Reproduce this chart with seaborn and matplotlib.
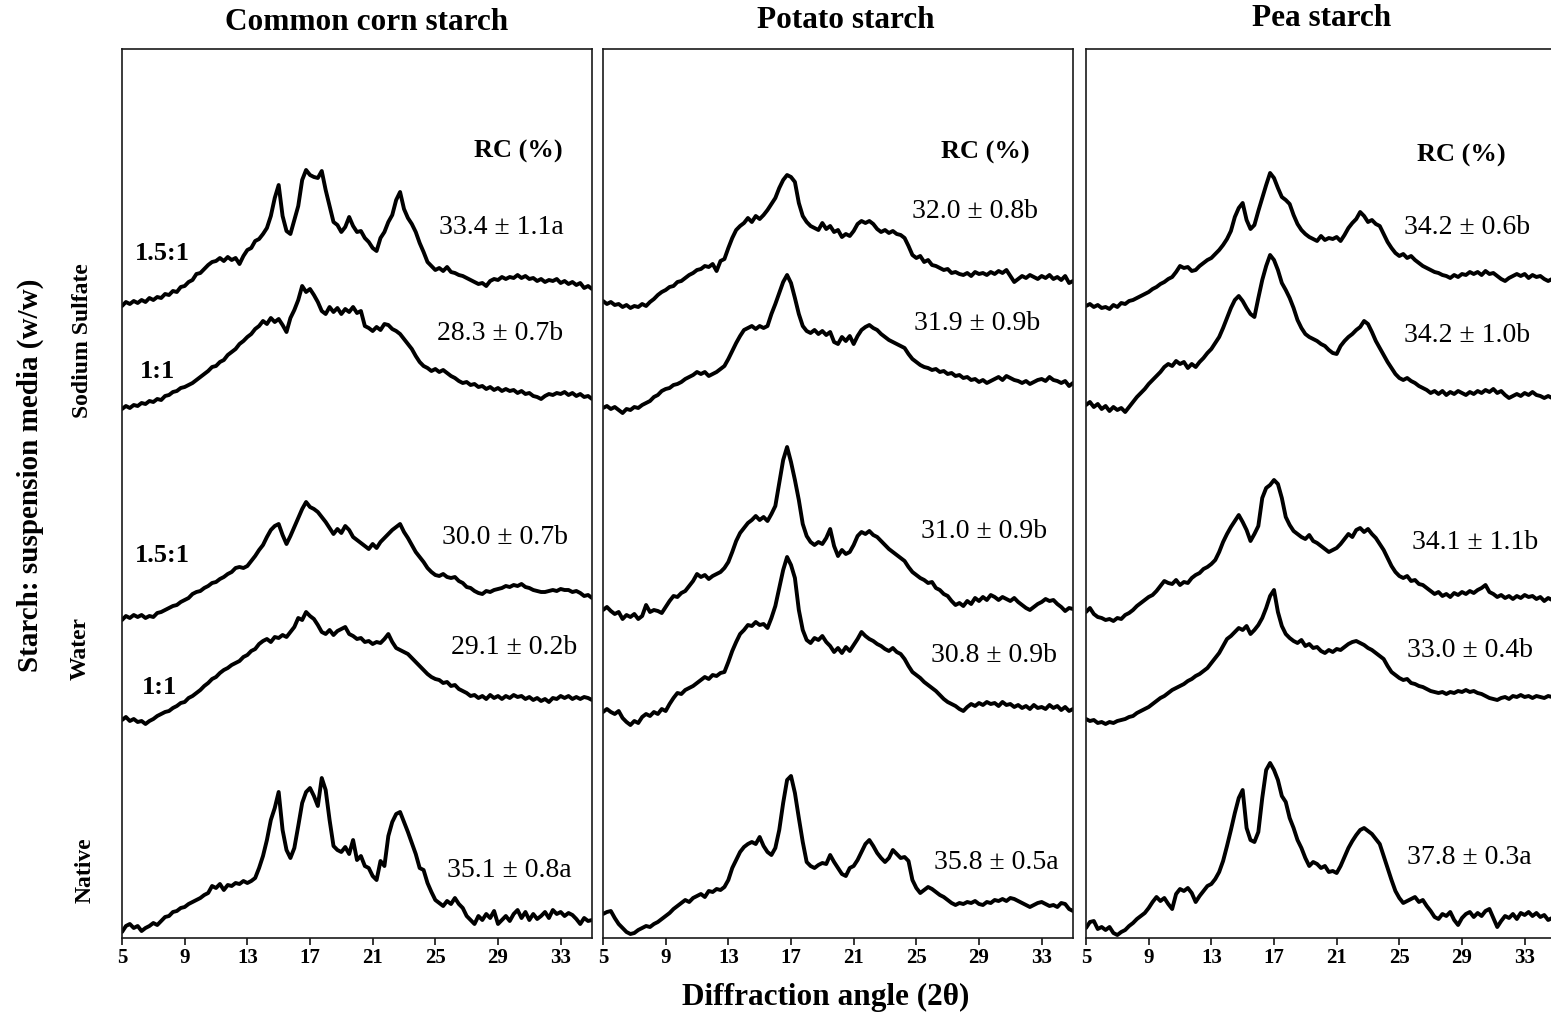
import numpy as np
import pandas as pd
import matplotlib
matplotlib.use("Agg")
import matplotlib.pyplot as plt
import seaborn as sns

# ---------------- data ----------------
angles = np.linspace(5.0, 35.0, 121)          # 2-theta grid, 0.25 deg steps

panels = ["Common corn starch", "Potato starch", "Pea starch"]
traces = ["SS 1.5:1", "SS 1:1", "Water 1.5:1", "Water 1:1", "Native"]
trace_offsets = [610, 500, 300, 200, 0]        # vertical stacking of the patterns

corn_ss15 = [22, 26, 24, 27, 25, 28, 26, 30, 28, 31, 30, 34, 33, 37, 36, 41,
             42, 46, 48, 54, 55, 59, 63, 66, 67, 70, 67, 71, 68, 70, 64, 72,
             78, 80, 87, 89, 94, 100, 112, 130, 143, 112, 97, 94, 108, 122, 148, 158,
             153, 151, 150, 157, 138, 122, 106, 103, 96, 101, 111, 102, 96, 97, 90, 86,
             80, 77, 90, 96, 106, 113, 128, 136, 119, 110, 104, 96, 85, 76, 66, 62,
             58, 60, 57, 61, 56, 55, 53, 52, 50, 48, 46, 44, 45, 42, 47, 49,
             48, 51, 49, 51, 50, 53, 50, 52, 49, 50, 47, 49, 46, 48, 47, 49,
             45, 47, 44, 46, 43, 45, 40, 42, 39]
corn_ss11 = [29, 32, 30, 33, 32, 35, 34, 37, 36, 39, 38, 42, 43, 46, 47, 50,
             51, 53, 55, 58, 61, 64, 67, 71, 72, 76, 78, 83, 86, 89, 94, 97,
             101, 104, 109, 112, 117, 114, 120, 116, 119, 113, 106, 120, 128, 138, 152, 146,
             149, 143, 136, 127, 124, 131, 126, 130, 124, 129, 126, 131, 125, 127, 112, 110,
             107, 111, 108, 114, 113, 109, 107, 104, 99, 94, 89, 82, 76, 72, 70, 67,
             69, 66, 68, 65, 62, 60, 57, 55, 56, 53, 54, 51, 52, 49, 51, 48,
             50, 47, 49, 47, 48, 45, 47, 44, 45, 42, 41, 39, 42, 44, 43, 45,
             44, 46, 43, 45, 42, 44, 41, 42, 39]
corn_w15 = [18, 22, 20, 23, 21, 23, 20, 22, 21, 25, 26, 28, 30, 32, 33, 36,
            38, 40, 44, 46, 47, 50, 52, 55, 56, 59, 61, 64, 66, 70, 71, 70,
            72, 77, 82, 88, 93, 101, 108, 112, 114, 103, 94, 102, 111, 120, 129, 136,
            131, 129, 126, 121, 116, 110, 104, 109, 105, 112, 108, 101, 98, 95, 92, 89,
            94, 90, 96, 100, 104, 108, 111, 114, 106, 100, 93, 86, 81, 76, 70, 66,
            63, 62, 64, 61, 60, 61, 57, 55, 51, 50, 47, 45, 44, 47, 46, 48,
            49, 50, 52, 51, 53, 52, 54, 51, 50, 48, 47, 46, 46, 47, 48, 47,
            49, 48, 48, 46, 47, 45, 42, 43, 40]
corn_w11 = [18, 21, 17, 19, 16, 17, 14, 17, 19, 22, 24, 26, 27, 30, 32, 35,
            36, 40, 42, 45, 48, 52, 55, 59, 61, 65, 68, 70, 73, 75, 77, 81,
            83, 87, 89, 94, 97, 99, 96, 101, 100, 103, 101, 106, 111, 120, 118, 126,
            122, 119, 113, 106, 104, 108, 103, 107, 109, 111, 104, 102, 99, 100, 96, 97,
            94, 96, 95, 99, 104, 96, 90, 88, 86, 84, 80, 76, 72, 68, 64, 61,
            59, 58, 55, 56, 52, 53, 49, 47, 45, 42, 43, 40, 42, 39, 43, 40,
            42, 39, 42, 40, 43, 41, 42, 39, 41, 38, 40, 37, 39, 36, 40, 39,
            42, 40, 42, 39, 41, 39, 41, 40, 38]
corn_native = [6, 12, 14, 10, 12, 7, 10, 12, 15, 13, 17, 21, 22, 26, 27, 30,
               31, 34, 36, 38, 40, 43, 45, 52, 50, 54, 48, 53, 52, 55, 54, 57,
               55, 57, 60, 70, 82, 98, 118, 130, 146, 108, 88, 80, 90, 112, 135, 146,
               150, 142, 132, 160, 148, 118, 92, 88, 86, 91, 84, 98, 78, 82, 72, 70,
               62, 58, 77, 72, 102, 116, 124, 126, 116, 106, 95, 84, 70, 68, 55, 46,
               38, 35, 32, 37, 34, 40, 34, 30, 22, 18, 14, 22, 18, 24, 20, 27,
               14, 18, 22, 17, 24, 28, 20, 26, 18, 24, 19, 22, 26, 20, 28, 24,
               26, 22, 25, 23, 19, 14, 20, 17, 18]

potato_ss15 = [27, 24, 26, 23, 24, 21, 23, 20, 22, 21, 24, 22, 26, 29, 33, 36,
               38, 41, 42, 46, 47, 50, 53, 55, 58, 59, 62, 61, 64, 57, 67, 69,
               80, 90, 98, 102, 105, 110, 106, 112, 109, 113, 118, 124, 130, 140, 148, 153,
               151, 146, 125, 112, 106, 102, 100, 98, 105, 99, 102, 96, 98, 91, 94, 92,
               97, 104, 107, 105, 107, 104, 99, 96, 98, 95, 97, 94, 93, 90, 82, 73,
               70, 72, 66, 68, 63, 62, 60, 58, 59, 55, 56, 54, 53, 55, 52, 56,
               54, 55, 53, 56, 54, 57, 55, 58, 52, 46, 49, 52, 50, 53, 51, 49,
               52, 50, 53, 49, 51, 48, 52, 45, 47]
potato_ss11 = [30, 32, 29, 31, 28, 25, 29, 28, 31, 30, 33, 35, 37, 41, 43, 47,
               49, 50, 53, 54, 56, 59, 61, 63, 66, 64, 66, 62, 64, 66, 69, 72,
               79, 87, 95, 102, 108, 110, 112, 109, 112, 110, 112, 124, 134, 145, 156, 163,
               155, 140, 124, 112, 107, 105, 108, 104, 107, 103, 106, 96, 94, 101, 97, 102,
               94, 102, 108, 111, 113, 110, 108, 104, 101, 98, 96, 94, 92, 90, 84, 79,
               76, 73, 71, 70, 68, 69, 66, 67, 64, 65, 62, 63, 60, 61, 58, 59,
               56, 58, 55, 57, 59, 61, 58, 62, 60, 58, 57, 55, 57, 54, 56, 58,
               59, 57, 61, 58, 57, 55, 57, 52, 55]
potato_w15 = [28, 31, 27, 24, 26, 19, 23, 21, 24, 19, 22, 33, 26, 28, 27, 25,
              31, 37, 42, 41, 45, 47, 52, 57, 64, 61, 63, 59, 62, 64, 66, 70,
              76, 86, 97, 105, 110, 115, 118, 122, 118, 121, 117, 124, 132, 155, 178, 191,
              176, 158, 138, 114, 102, 96, 93, 96, 94, 100, 109, 92, 82, 88, 84, 86,
              93, 102, 106, 104, 107, 103, 101, 97, 93, 89, 86, 83, 80, 77, 71, 66,
              63, 60, 58, 55, 56, 50, 48, 44, 42, 37, 33, 35, 32, 37, 34, 40,
              37, 41, 38, 43, 41, 38, 41, 39, 37, 40, 36, 33, 30, 28, 31, 34,
              36, 39, 37, 38, 34, 31, 27, 30, 29]
potato_w11 = [26, 29, 26, 24, 27, 20, 16, 13, 17, 15, 21, 24, 22, 26, 24, 29,
              27, 34, 40, 45, 44, 48, 50, 52, 55, 58, 61, 59, 63, 62, 65, 66,
              76, 87, 96, 104, 108, 113, 112, 116, 113, 114, 110, 120, 132, 150, 168, 181,
              173, 160, 128, 108, 98, 95, 100, 98, 102, 96, 92, 86, 90, 85, 91, 87,
              93, 99, 106, 102, 99, 97, 94, 92, 89, 87, 90, 86, 84, 79, 72, 66,
              63, 60, 56, 53, 50, 47, 43, 39, 36, 34, 32, 29, 27, 31, 34, 32,
              35, 33, 36, 34, 35, 32, 36, 33, 34, 31, 33, 30, 32, 29, 33, 30,
              31, 29, 33, 30, 32, 28, 31, 27, 29]
potato_native = [24, 26, 27, 20, 14, 10, 6, 4, 5, 8, 10, 12, 11, 14, 16, 19,
                 22, 25, 29, 32, 35, 38, 36, 40, 42, 44, 41, 47, 46, 49, 48, 51,
                 58, 70, 78, 86, 91, 94, 96, 94, 101, 92, 86, 83, 90, 108, 135, 158,
                 162, 145, 120, 96, 76, 72, 70, 73, 75, 74, 83, 76, 70, 64, 62, 70,
                 72, 78, 86, 94, 98, 92, 85, 80, 76, 80, 88, 84, 80, 81, 77, 58,
                 50, 45, 48, 51, 49, 46, 43, 41, 38, 35, 33, 35, 34, 36, 35, 37,
                 34, 33, 36, 35, 38, 37, 39, 37, 40, 39, 37, 35, 33, 31, 33, 35,
                 36, 34, 32, 33, 31, 35, 34, 29, 27]

pea_ss15 = [22, 24, 21, 23, 20, 21, 19, 23, 21, 25, 24, 27, 28, 30, 32, 34,
            36, 39, 41, 44, 46, 49, 51, 56, 62, 60, 61, 57, 58, 62, 65, 68,
            70, 74, 78, 83, 89, 97, 111, 120, 125, 108, 99, 103, 117, 130, 143, 155,
            150, 140, 131, 128, 124, 113, 104, 98, 94, 91, 89, 87, 92, 88, 90, 89,
            91, 87, 93, 100, 105, 109, 116, 112, 106, 108, 104, 102, 94, 86, 80, 75,
            72, 74, 70, 72, 68, 65, 62, 60, 58, 56, 55, 53, 52, 50, 53, 51,
            54, 53, 56, 54, 56, 53, 57, 54, 55, 52, 49, 47, 50, 52, 54, 52,
            54, 50, 53, 51, 52, 49, 47, 49, 48]
pea_ss11 = [33, 36, 31, 34, 29, 32, 27, 31, 28, 30, 26, 31, 36, 41, 45, 49,
            54, 58, 62, 66, 71, 74, 72, 77, 74, 76, 70, 74, 71, 76, 80, 85,
            89, 95, 101, 110, 120, 130, 138, 142, 137, 130, 124, 121, 140, 158, 172, 183,
            178, 168, 155, 148, 140, 130, 118, 110, 104, 101, 99, 97, 94, 92, 88, 85,
            84, 92, 97, 101, 104, 108, 111, 117, 114, 106, 97, 90, 83, 76, 70, 64,
            60, 58, 60, 57, 55, 52, 50, 48, 45, 47, 44, 47, 43, 46, 44, 47,
            45, 43, 46, 44, 47, 45, 48, 46, 49, 45, 47, 43, 40, 42, 44, 42,
            45, 43, 46, 43, 42, 40, 42, 40, 41]
pea_w15 = [26, 30, 24, 21, 20, 18, 19, 17, 20, 19, 23, 25, 28, 32, 35, 38,
           41, 43, 47, 52, 57, 55, 54, 58, 53, 56, 55, 60, 63, 65, 69, 71,
           74, 78, 86, 96, 104, 111, 117, 123, 116, 108, 97, 104, 112, 140, 150, 153,
           158, 154, 140, 121, 113, 107, 104, 101, 99, 103, 97, 95, 92, 89, 86, 88,
           90, 94, 99, 104, 101, 108, 110, 106, 109, 104, 100, 94, 88, 80, 72, 66,
           62, 60, 62, 57, 58, 54, 53, 50, 47, 44, 46, 42, 44, 41, 45, 43,
           46, 44, 47, 45, 48, 50, 53, 46, 44, 41, 43, 40, 42, 39, 42, 40,
           43, 41, 42, 39, 41, 37, 40, 38, 39]
pea_w11 = [19, 17, 18, 15, 16, 14, 16, 15, 17, 18, 19, 21, 22, 25, 27, 29,
           31, 34, 37, 40, 42, 45, 48, 50, 52, 54, 57, 59, 62, 64, 67, 70,
           75, 80, 85, 92, 99, 102, 106, 110, 108, 112, 104, 108, 113, 120, 130, 142,
           148, 126, 112, 104, 100, 97, 95, 98, 92, 94, 90, 91, 87, 85, 88, 86,
           89, 88, 91, 94, 96, 97, 95, 93, 90, 88, 85, 82, 79, 72, 66, 63,
           60, 58, 59, 55, 54, 52, 51, 49, 47, 46, 45, 46, 44, 46, 45, 47,
           46, 48, 46, 47, 45, 44, 42, 40, 39, 38, 40, 41, 39, 42, 41, 43,
           41, 42, 40, 42, 41, 40, 42, 41, 40]
pea_native = [10, 16, 17, 9, 11, 8, 11, 5, 3, 6, 8, 12, 15, 19, 22, 25,
              30, 36, 41, 37, 40, 34, 29, 44, 49, 47, 50, 45, 36, 42, 47, 52,
              54, 59, 66, 77, 92, 108, 125, 140, 148, 110, 98, 96, 106, 140, 168, 175,
              168, 158, 142, 136, 120, 110, 98, 90, 80, 72, 76, 74, 70, 72, 66, 67,
              65, 72, 81, 90, 97, 103, 108, 110, 107, 104, 99, 94, 82, 70, 58, 47,
              40, 35, 37, 39, 41, 36, 38, 32, 27, 21, 19, 24, 22, 26, 18, 13,
              20, 24, 26, 21, 25, 22, 27, 29, 20, 11, 17, 22, 20, 24, 19, 25,
              23, 26, 22, 25, 21, 23, 18, 20, 19]

panel_series = [
    [corn_ss15, corn_ss11, corn_w15, corn_w11, corn_native],
    [potato_ss15, potato_ss11, potato_w15, potato_w11, potato_native],
    [pea_ss15, pea_ss11, pea_w15, pea_w11, pea_native],
]

rc_labels = [
    ["33.4 ± 1.1a", "28.3 ± 0.7b", "30.0 ± 0.7b", "29.1 ± 0.2b", "35.1 ± 0.8a"],
    ["32.0 ± 0.8b", "31.9 ± 0.9b", "31.0 ± 0.9b", "30.8 ± 0.9b", "35.8 ± 0.5a"],
    ["34.2 ± 0.6b", "34.2 ± 1.0b", "34.1 ± 1.1b", "33.0 ± 0.4b", "37.8 ± 0.3a"],
]
ratio_labels = ["1.5:1", "1:1", "1.5:1", "1:1"]
media_labels = ["Sodium Sulfate", "Water", "Native"]
tick_values = [5, 9, 13, 17, 21, 25, 29, 33]

# ---------------- layout (pixels of the 1551 x 1013 canvas) ----------------
W, H = 1551, 1013
panel_left = [122, 603, 1086]
panel_w = 470
ax_top, ax_bot = 49, 938

title_pos = [(367, 23), (846, 21), (1322, 19)]
rchead_pos = [(518, 151), (985, 152), (1461, 155)]
rc_pos = [
    [(501, 228), (500, 333), (505, 538), (514, 647), (509, 870)],
    [(975, 212), (977, 323), (984, 532), (994, 655), (996, 862)],
    [(1467, 227), (1467, 335), (1475, 542), (1470, 650), (1469, 857)],
]
ratio_pos = [(162, 253), (158, 372), (162, 555), (159, 687)]
media_pos = [(83, 341), (80, 649), (85, 870)]

sns.set_style("ticks")
plt.rcParams["font.family"] = ["Liberation Serif", "DejaVu Serif"]
plt.rcParams["text.color"] = "black"
plt.rcParams["xtick.color"] = "black"
plt.rcParams["xtick.labelcolor"] = "black"
plt.rcParams["axes.edgecolor"] = "black"

fig = plt.figure(figsize=(W / 100, H / 100), dpi=100)


def ftext(x, y, s, **kw):
    fig.text(x / W, 1 - y / H, s, ha="center", va="center", color="black", **kw)


for p, name in enumerate(panels):
    rows = []
    for t, (tname, vals) in enumerate(zip(traces, panel_series[p])):
        for a, v in zip(angles, vals):
            rows.append({"angle": a, "signal": v + trace_offsets[t], "trace": tname})
    df = pd.DataFrame(rows)

    ax = fig.add_axes([panel_left[p] / W, 1 - ax_bot / H,
                       panel_w / W, (ax_bot - ax_top) / H])
    sns.lineplot(data=df, x="angle", y="signal", units="trace", estimator=None,
                 color="black", linewidth=2.8, ax=ax)
    ax.set_xlim(5, 35)
    ax.set_ylim(0, ax_bot - ax_top)
    ax.set_yticks([])
    ax.set_xticks(tick_values)
    ax.set_xticklabels([str(v) for v in tick_values], fontsize=15, fontweight="bold",
                       color="black")
    ax.tick_params(axis="x", direction="out", length=5, width=1.1, pad=2,
                   bottom=True, color="black")
    ax.set_xlabel("")
    ax.set_ylabel("")
    for sp in ax.spines.values():
        sp.set_visible(True)
        sp.set_color("#1a1a1a")
        sp.set_linewidth(1.2)

    ftext(*title_pos[p], name, fontsize=22.5, fontweight="bold")
    ftext(*rchead_pos[p], "RC (%)", fontsize=19, fontweight="bold")
    for lab, pos in zip(rc_labels[p], rc_pos[p]):
        ftext(*pos, lab, fontsize=20)

for lab, pos in zip(ratio_labels, ratio_pos):
    ftext(*pos, lab, fontsize=19, fontweight="bold")
for lab, pos in zip(media_labels, media_pos):
    ftext(*pos, lab, fontsize=17, fontweight="bold", rotation=90)

ftext(30, 475, "Starch: suspension media (w/w)", fontsize=21, fontweight="bold",
      rotation=90)
ftext(826, 997, "Diffraction angle (2θ)", fontsize=22.5, fontweight="bold")

fig.savefig("out.png", dpi=100, facecolor="white")
